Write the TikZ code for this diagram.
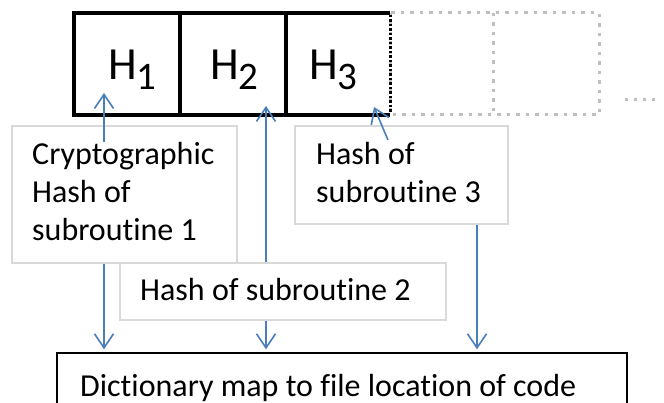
\documentclass[tikz,border=0pt]{standalone}
\usepackage{fontspec}
\setmainfont{Carlito}[Ligatures={NoCommon}]
\usetikzlibrary{arrows.meta}
\definecolor{arrblue}{RGB}{74,126,187}
\definecolor{boxgray}{RGB}{217,217,217}
\definecolor{dotgray}{RGB}{191,191,191}
\begin{document}
\begin{tikzpicture}[x=1pt,y=-1pt,
  cellbox/.style={draw=black,line width=4pt,inner sep=0pt,minimum width=106pt,minimum height=102pt},
  ghost/.style={draw=dotgray,line width=3pt,dash pattern=on 3.5pt off 6pt},
  tbox/.style={draw=boxgray,line width=1.5pt,fill=white,inner sep=0pt},
  lbl/.style={inner sep=0pt,anchor=base west,font=\fontsize{32}{38}\selectfont},
  mlbl/.style={lbl,text width=230pt,align=flush left},
  hlbl/.style={inner sep=0pt,anchor=base west,font=\fontsize{46}{50}\selectfont},
  arr/.style={draw=arrblue,line width=1.6pt,-{Straight Barb[length=14pt,width=19pt,line width=1.6pt]}}
]
\useasboundingbox (0,0) rectangle (664,403);
\clip (0,0) rectangle (664,403);
\fill[white] (0,0) rectangle (664,403);

% empty (future) cells, dotted grey
\draw[ghost] (390,13) rectangle (599,115);
\draw[ghost] (493,13) -- (493,115);
\draw[draw=dotgray,line width=3pt,dash pattern=on 3pt off 6pt] (625,100) -- (660,100);

% hash cells
\node[cellbox] (c1) at (127,64) {};
\node[cellbox] (c2) at (232.5,64) {};
\node[inner sep=0pt,minimum width=105pt,minimum height=102pt] (c3) at (337.5,64) {};
\draw[line width=4pt] (c3.north east) -- (c3.north west);
\draw[line width=4pt] (c3.south east) -- (c3.south west);
\draw[line width=3pt,dash pattern=on 2.5pt off 2pt] ([yshift=-2pt]c3.north east) -- ([yshift=2pt]c3.south east);

\node[hlbl] (h1) at (108,80) {H\raisebox{-10pt}{\fontsize{39}{40}\selectfont 1}};
\node[hlbl] (h2) at (210,80) {H\raisebox{-10pt}{\fontsize{39}{40}\selectfont 2}};
\node[hlbl] (h3) at (309,80) {H\raisebox{-10pt}{\fontsize{39}{40}\selectfont 3}};

% text boxes
\node[tbox,minimum width=225pt,minimum height=137pt] (b1) at (124.5,194.5) {};
\node[tbox,minimum width=213pt,minimum height=98pt] (b3) at (401.5,175) {};
\node[tbox,minimum width=326pt,minimum height=57pt] (b2) at (283,291.5) {};
\node[draw=black,line width=1.5pt,fill=white,inner sep=0pt,minimum width=570pt,minimum height=80pt] (dict) at (342,393) {};

\node[mlbl] (t1) at (32,165) {Cryptographic\\Hash of\\subroutine 1};
\node[mlbl] (t3) at (316,165) {Hash of\\subroutine 3};
\node[lbl] (t2) at (140,301) {Hash of subroutine 2};
\node[lbl] (td) at (80,396) {Dictionary map to file location of code};

% connectors
\coordinate (a1s) at (104,142);
\coordinate (a1e) at (104,93);
\coordinate (a2e) at (266,106);
\coordinate (a3s) at (388,140);
\coordinate (a3e) at (374,107);
\coordinate (a3x) at (477,0);

\draw[arr] (a1s) -- (a1e);
\draw[arr,shorten >=3pt] (b1.south -| a1s) -- (dict.north -| a1s);
\draw[arr] (b2.north -| a2e) -- (a2e);
\draw[arr,shorten >=3pt] (b2.south -| a2e) -- (dict.north -| a2e);
\draw[arr] (a3s) -- (a3e);
\draw[arr,shorten >=3pt] (b3.south -| a3x) -- (dict.north -| a3x);
\end{tikzpicture}
\end{document}
